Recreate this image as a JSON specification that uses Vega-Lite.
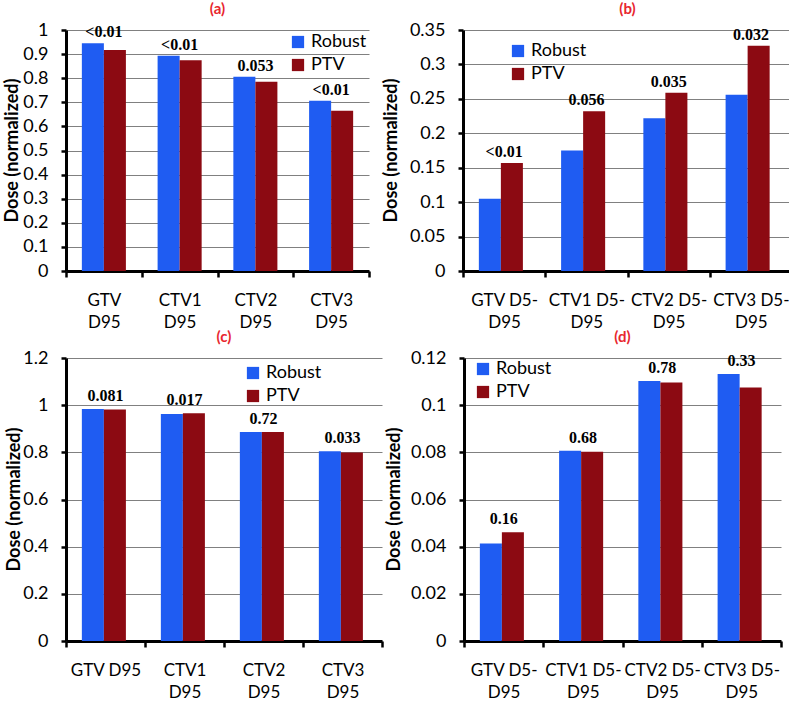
{
"$schema": "https://vega.github.io/schema/vega-lite/v6.json",
"background": "white",
"padding": {"left": 2, "top": 2, "right": 0, "bottom": 0},
"datasets": {
 "a": [
  {"cat": "GTV D95", "series": "Robust", "value": 0.945, "p": "<0.01"},
  {"cat": "GTV D95", "series": "PTV", "value": 0.917, "p": "<0.01"},
  {"cat": "CTV1 D95", "series": "Robust", "value": 0.893, "p": "<0.01"},
  {"cat": "CTV1 D95", "series": "PTV", "value": 0.875, "p": "<0.01"},
  {"cat": "CTV2 D95", "series": "Robust", "value": 0.806, "p": "0.053"},
  {"cat": "CTV2 D95", "series": "PTV", "value": 0.785, "p": "0.053"},
  {"cat": "CTV3 D95", "series": "Robust", "value": 0.706, "p": "<0.01"},
  {"cat": "CTV3 D95", "series": "PTV", "value": 0.665, "p": "<0.01"}
 ],
 "b": [
  {"cat": "GTV D5-D95", "series": "Robust", "value": 0.105, "p": "<0.01"},
  {"cat": "GTV D5-D95", "series": "PTV", "value": 0.157, "p": "<0.01"},
  {"cat": "CTV1 D5-D95", "series": "Robust", "value": 0.175, "p": "0.056"},
  {"cat": "CTV1 D5-D95", "series": "PTV", "value": 0.232, "p": "0.056"},
  {"cat": "CTV2 D5-D95", "series": "Robust", "value": 0.222, "p": "0.035"},
  {"cat": "CTV2 D5-D95", "series": "PTV", "value": 0.259, "p": "0.035"},
  {"cat": "CTV3 D5-D95", "series": "Robust", "value": 0.256, "p": "0.032"},
  {"cat": "CTV3 D5-D95", "series": "PTV", "value": 0.327, "p": "0.032"}
 ],
 "c": [
  {"cat": "GTV D95", "series": "Robust", "value": 0.984, "p": "0.081"},
  {"cat": "GTV D95", "series": "PTV", "value": 0.982, "p": "0.081"},
  {"cat": "CTV1 D95", "series": "Robust", "value": 0.963, "p": "0.017"},
  {"cat": "CTV1 D95", "series": "PTV", "value": 0.966, "p": "0.017"},
  {"cat": "CTV2 D95", "series": "Robust", "value": 0.886, "p": "0.72"},
  {"cat": "CTV2 D95", "series": "PTV", "value": 0.886, "p": "0.72"},
  {"cat": "CTV3 D95", "series": "Robust", "value": 0.805, "p": "0.033"},
  {"cat": "CTV3 D95", "series": "PTV", "value": 0.799, "p": "0.033"}
 ],
 "d": [
  {"cat": "GTV D5-D95", "series": "Robust", "value": 0.0413, "p": "0.16"},
  {"cat": "GTV D5-D95", "series": "PTV", "value": 0.0461, "p": "0.16"},
  {"cat": "CTV1 D5-D95", "series": "Robust", "value": 0.0807, "p": "0.68"},
  {"cat": "CTV1 D5-D95", "series": "PTV", "value": 0.0803, "p": "0.68"},
  {"cat": "CTV2 D5-D95", "series": "Robust", "value": 0.1103, "p": "0.78"},
  {"cat": "CTV2 D5-D95", "series": "PTV", "value": 0.1096, "p": "0.78"},
  {"cat": "CTV3 D5-D95", "series": "Robust", "value": 0.1132, "p": "0.33"},
  {"cat": "CTV3 D5-D95", "series": "PTV", "value": 0.1075, "p": "0.33"}
 ]
},
"spacing": 0,
"resolve": {"scale": {"x": "independent", "y": "independent", "color": "independent"}, "legend": {"color": "independent"}},
"vconcat": [
 {
  "spacing": 10,
  "resolve": {"scale": {"x": "independent", "y": "independent", "color": "independent"}, "legend": {"color": "independent"}},
  "hconcat": [
   {
    "width": 303, "height": 241,
    "title": {"text": "(a)"},
    "data": {"name": "a"},
    "layer": [
     {
      "mark": {"type": "bar"},
      "encoding": {
       "x": {"field": "cat", "type": "nominal", "sort": null, "scale": {"paddingInner": 0, "paddingOuter": 0}, "axis": {"labelExpr": "datum.label ? split(datum.label, ' ') : ''"}},
       "xOffset": {"field": "series", "type": "nominal", "sort": ["Robust", "PTV"], "scale": {"paddingInner": 0, "paddingOuter": 0.72}},
       "y": {"field": "value", "type": "quantitative", "title": "Dose (normalized)", "scale": {"domain": [0, 1]}, "axis": {"values": [0, 0.1, 0.2, 0.3, 0.4, 0.5, 0.6, 0.7, 0.8, 0.9, 1], "labelExpr": "format(datum.value, '.2~f')", "titleX": -45, "titleY": 120}},
       "color": {"field": "series", "type": "nominal", "scale": {"domain": ["Robust", "PTV"], "range": ["#1f5cf2", "#8c0a12"]}, "legend": {"orient": "none", "legendX": 223, "legendY": 3, "title": null}}
      }
     },
     {
      "transform": [{"joinaggregate": [{"op": "max", "field": "value", "as": "top"}], "groupby": ["cat"]}, {"filter": "datum.series === 'Robust'"}],
      "mark": {"type": "text", "font": "Liberation Serif", "fontWeight": "bold", "fontSize": 16, "baseline": "bottom", "dy": -3, "color": "black"},
      "encoding": {
       "x": {"field": "cat", "type": "nominal", "sort": null, "axis": {"labelExpr": "datum.label ? split(datum.label, ' ') : ''"}},
       "y": {"field": "top", "type": "quantitative", "title": "Dose (normalized)", "axis": {"values": [0, 0.1, 0.2, 0.3, 0.4, 0.5, 0.6, 0.7, 0.8, 0.9, 1], "labelExpr": "format(datum.value, '.2~f')", "titleX": -45, "titleY": 120}},
       "text": {"field": "p", "type": "nominal"}
      }
     }
    ]
   },
   {
    "width": 329, "height": 241,
    "title": {"text": "(b)"},
    "data": {"name": "b"},
    "layer": [
     {
      "mark": {"type": "bar"},
      "encoding": {
       "x": {"field": "cat", "type": "nominal", "sort": null, "scale": {"paddingInner": 0, "paddingOuter": 0}, "axis": {"labelExpr": "datum.label ? [split(datum.label, '-')[0] + '-', split(datum.label, '-')[1]] : ''"}},
       "xOffset": {"field": "series", "type": "nominal", "sort": ["Robust", "PTV"], "scale": {"paddingInner": 0, "paddingOuter": 0.75}},
       "y": {"field": "value", "type": "quantitative", "title": "Dose (normalized)", "scale": {"domain": [0, 0.35]}, "axis": {"values": [0, 0.05, 0.1, 0.15, 0.2, 0.25, 0.3, 0.35], "labelExpr": "format(datum.value, '.2~f')", "titleX": -63, "titleY": 120}},
       "color": {"field": "series", "type": "nominal", "scale": {"domain": ["Robust", "PTV"], "range": ["#1f5cf2", "#8c0a12"]}, "legend": {"orient": "none", "legendX": 46, "legendY": 12, "title": null}}
      }
     },
     {
      "transform": [{"joinaggregate": [{"op": "max", "field": "value", "as": "top"}], "groupby": ["cat"]}, {"filter": "datum.series === 'Robust'"}],
      "mark": {"type": "text", "font": "Liberation Serif", "fontWeight": "bold", "fontSize": 16, "baseline": "bottom", "dy": -3, "color": "black"},
      "encoding": {
       "x": {"field": "cat", "type": "nominal", "sort": null, "axis": {"labelExpr": "datum.label ? [split(datum.label, '-')[0] + '-', split(datum.label, '-')[1]] : ''"}},
       "y": {"field": "top", "type": "quantitative", "title": "Dose (normalized)", "axis": {"values": [0, 0.05, 0.1, 0.15, 0.2, 0.25, 0.3, 0.35], "labelExpr": "format(datum.value, '.2~f')", "titleX": -63, "titleY": 120}},
       "text": {"field": "p", "type": "nominal"}
      }
     }
    ]
   }
  ]
 },
 {
  "spacing": 0,
  "resolve": {"scale": {"x": "independent", "y": "independent", "color": "independent"}, "legend": {"color": "independent"}},
  "hconcat": [
   {
    "width": 316, "height": 283,
    "title": {"text": "(c)"},
    "data": {"name": "c"},
    "layer": [
     {
      "mark": {"type": "bar"},
      "encoding": {
       "x": {"field": "cat", "type": "nominal", "sort": null, "scale": {"paddingInner": 0, "paddingOuter": 0}, "axis": {"labelExpr": "datum.label == 'GTV D95' ? 'GTV D95' : (datum.label ? split(datum.label, ' ') : '')"}},
       "xOffset": {"field": "series", "type": "nominal", "sort": ["Robust", "PTV"], "scale": {"paddingInner": 0, "paddingOuter": 0.8}},
       "y": {"field": "value", "type": "quantitative", "title": "Dose (normalized)", "scale": {"domain": [0, 1.2]}, "axis": {"values": [0, 0.2, 0.4, 0.6, 0.8, 1, 1.2], "labelExpr": "format(datum.value, '.2~f')", "titleX": -43, "titleY": 141}},
       "color": {"field": "series", "type": "nominal", "scale": {"domain": ["Robust", "PTV"], "range": ["#1f5cf2", "#8c0a12"]}, "legend": {"orient": "none", "legendX": 178, "legendY": 6, "title": null}}
      }
     },
     {
      "transform": [{"joinaggregate": [{"op": "max", "field": "value", "as": "top"}], "groupby": ["cat"]}, {"filter": "datum.series === 'Robust'"}],
      "mark": {"type": "text", "font": "Liberation Serif", "fontWeight": "bold", "fontSize": 16, "baseline": "bottom", "dy": -5, "color": "black"},
      "encoding": {
       "x": {"field": "cat", "type": "nominal", "sort": null, "axis": {"labelExpr": "datum.label == 'GTV D95' ? 'GTV D95' : (datum.label ? split(datum.label, ' ') : '')"}},
       "y": {"field": "top", "type": "quantitative", "title": "Dose (normalized)", "axis": {"values": [0, 0.2, 0.4, 0.6, 0.8, 1, 1.2], "labelExpr": "format(datum.value, '.2~f')", "titleX": -43, "titleY": 141}},
       "text": {"field": "p", "type": "nominal"}
      }
     }
    ]
   },
   {
    "width": 317, "height": 283,
    "title": {"text": "(d)"},
    "data": {"name": "d"},
    "layer": [
     {
      "mark": {"type": "bar"},
      "encoding": {
       "x": {"field": "cat", "type": "nominal", "sort": null, "scale": {"paddingInner": 0, "paddingOuter": 0}, "axis": {"labelExpr": "datum.label ? [split(datum.label, '-')[0] + '-', split(datum.label, '-')[1]] : ''"}},
       "xOffset": {"field": "series", "type": "nominal", "sort": ["Robust", "PTV"], "scale": {"paddingInner": 0, "paddingOuter": 0.65}},
       "y": {"field": "value", "type": "quantitative", "title": "Dose (normalized)", "scale": {"domain": [0, 0.12]}, "axis": {"values": [0, 0.02, 0.04, 0.06, 0.08, 0.1, 0.12], "labelExpr": "format(datum.value, '.2~f')", "titleX": -61, "titleY": 141}},
       "color": {"field": "series", "type": "nominal", "scale": {"domain": ["Robust", "PTV"], "range": ["#1f5cf2", "#8c0a12"]}, "legend": {"orient": "none", "legendX": 10, "legendY": 2, "title": null}}
      }
     },
     {
      "transform": [{"joinaggregate": [{"op": "max", "field": "value", "as": "top"}], "groupby": ["cat"]}, {"filter": "datum.series === 'Robust'"}],
      "mark": {"type": "text", "font": "Liberation Serif", "fontWeight": "bold", "fontSize": 16, "baseline": "bottom", "dy": -5, "color": "black"},
      "encoding": {
       "x": {"field": "cat", "type": "nominal", "sort": null, "axis": {"labelExpr": "datum.label ? [split(datum.label, '-')[0] + '-', split(datum.label, '-')[1]] : ''"}},
       "y": {"field": "top", "type": "quantitative", "title": "Dose (normalized)", "axis": {"values": [0, 0.02, 0.04, 0.06, 0.08, 0.1, 0.12], "labelExpr": "format(datum.value, '.2~f')", "titleX": -61, "titleY": 141}},
       "text": {"field": "p", "type": "nominal"}
      }
     }
    ]
   }
  ]
 }
],
"config": {
 "view": {"stroke": null},
 "font": "Lato",
 "title": {"font": "Lato", "fontSize": 15, "fontWeight": "bold", "color": "#e8262e", "offset": 0, "anchor": "middle"},
 "axis": {
  "labelFont": "Lato", "labelFontSize": 18, "labelColor": "black",
  "titleFont": "Lato", "titleFontSize": 18, "titleFontWeight": "bold", "titleColor": "black",
  "domainColor": "black", "domainWidth": 3,
  "tickColor": "black", "tickWidth": 2.5, "tickSize": 5,
  "gridColor": "#808080", "gridWidth": 1
 },
 "axisY": {"labelPadding": 13, "grid": true},
 "axisX": {"grid": false, "labelAngle": 0, "title": null, "tickBand": "extent", "tickSize": 6, "labelPadding": 15, "labelLineHeight": 22, "labelFontSize": 17, "labelBaseline": "top"},
 "legend": {"symbolType": "square", "symbolSize": 150, "symbolStrokeWidth": 0, "labelFont": "Lato", "labelFontSize": 18, "labelColor": "black", "rowPadding": 5, "labelOffset": 4}
}
}
